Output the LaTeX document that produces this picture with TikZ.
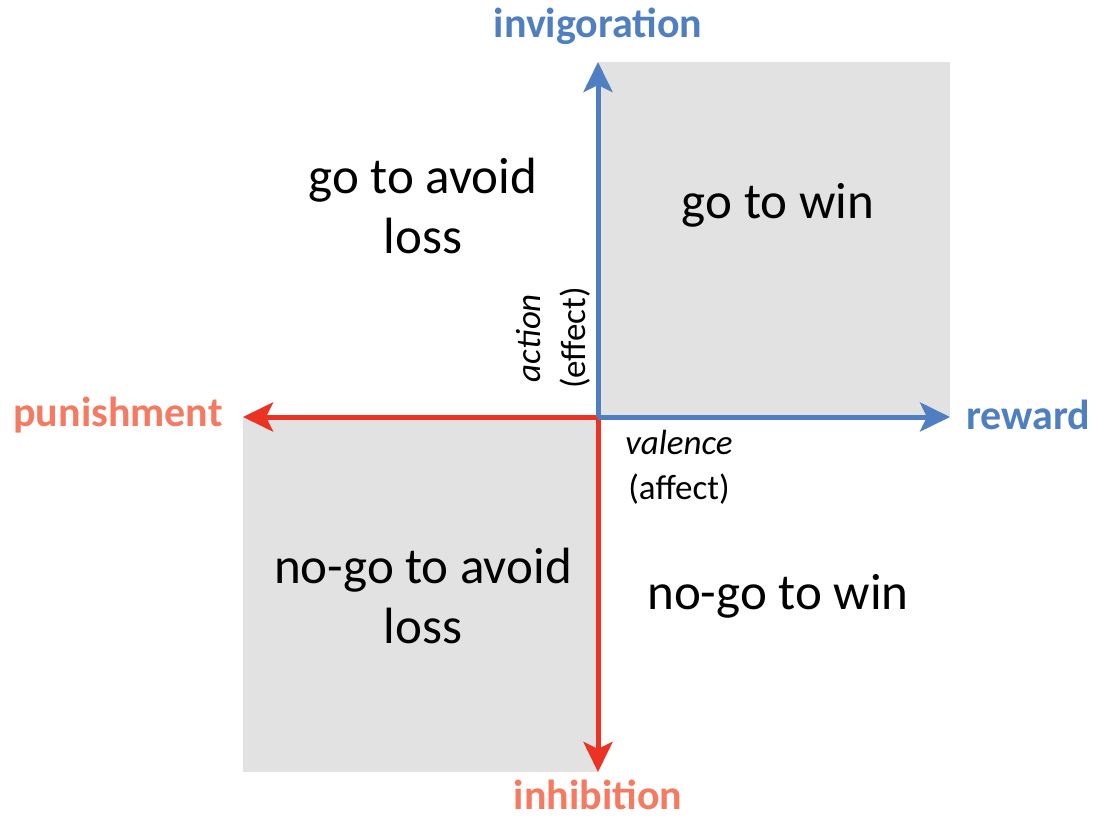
\documentclass[tikz,border=0pt]{standalone}
\usepackage{fontspec}
\setmainfont{Carlito}
\usetikzlibrary{arrows.meta}
\definecolor{axisblue}{HTML}{4F7FC1}
\definecolor{axisred}{HTML}{EC3323}
\definecolor{labelred}{HTML}{F47A62}
\definecolor{boxgray}{HTML}{E2E2E2}
\tikzset{
    quadtext/.style={align=center,font=\fontsize{51}{60}\selectfont},
    axislabel/.style={inner sep=0pt,font=\fontsize{42}{50}\selectfont\bfseries},
    axisname/.style={align=center,font=\fontsize{35}{45}\selectfont},
    axisarrow/.style={line width=5pt,-{Stealth[length=30pt,width=29pt,inset=7pt]}}
}
\begin{document}
\begin{tikzpicture}[x=1pt,y=-1pt]
                \useasboundingbox (0,0) rectangle (1093,818);
                \coordinate (o) at (598,417);
                \coordinate (up) at (598,62);
                \coordinate (down) at (598,772);
                \coordinate (left) at (243,417);
                \coordinate (right) at (950,417);
                % shaded quadrants
                \fill[boxgray] (o) rectangle (950,62);
                \fill[boxgray] (o) rectangle (243,772);
                \draw[axisarrow,axisred] (o) -- (left);
                \draw[axisarrow,axisred] (o) -- (down);
                \draw[axisarrow,axisblue] (o) -- (up);
                \draw[axisarrow,axisblue] (o) -- (right);
                \node[axislabel,text=axisblue] (invig) at (598,26) {invigoration};
                \node[axislabel,text=labelred] (inhib) at (598,795) {inhibition};
                \node[axislabel,text=labelred] (punish) at (118,415) {punishment};
                \node[axislabel,text=axisblue] (rew) at (1028,415) {reward};
                \node[quadtext] (goavoid) at (423,206) {go to avoid\\loss};
                \node[quadtext] (gowin) at (778,205) {go to win};
                \node[quadtext] (nogoavoid) at (423,596) {no-go to avoid\\loss};
                \node[quadtext] (nogowin) at (778,596) {no-go to win};
                \node[axisname,rotate=90] (action) at (553,338) {\itshape action\\(effect)};
                \node[axisname] (valence) at (679,467) {\itshape valence\\(affect)};
            \end{tikzpicture}
\end{document}
